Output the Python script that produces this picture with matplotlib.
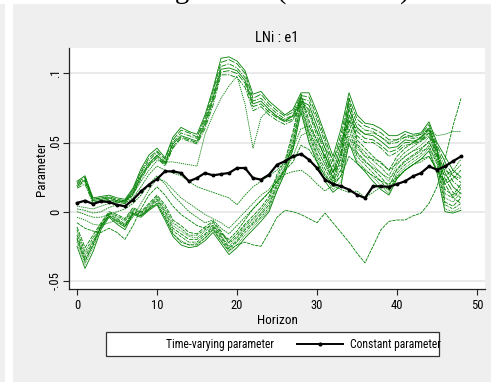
import matplotlib
matplotlib.use("Agg")
import matplotlib.pyplot as plt
from matplotlib import font_manager
from matplotlib.patches import Rectangle

# ---------------- data ----------------
horizon = list(range(49))

constant_param = [
    0.0063, 0.0080, 0.0056, 0.0075, 0.0070, 0.0050, 0.0039, 0.0087, 0.0147, 0.0196,
    0.0237, 0.0292, 0.0292, 0.0280, 0.0220, 0.0244, 0.0280, 0.0263, 0.0272, 0.0280,
    0.0316, 0.0316, 0.0244, 0.0232, 0.0268, 0.0340, 0.0365, 0.0400, 0.0418, 0.0376,
    0.0316, 0.0232, 0.0200, 0.0184, 0.0160, 0.0123, 0.0099, 0.0184, 0.0184, 0.0180,
    0.0200, 0.0220, 0.0256, 0.0280, 0.0328, 0.0304, 0.0328, 0.0365, 0.0400]

tv_u1 = [0.022, 0.026, 0.010, 0.011, 0.012, 0.010, 0.009, 0.017, 0.031, 0.041,
         0.046, 0.039, 0.054, 0.061, 0.058, 0.056, 0.070, 0.089, 0.111, 0.112,
         0.109, 0.102, 0.085, 0.087, 0.080, 0.075, 0.070, 0.074, 0.086, 0.086,
         0.072, 0.056, 0.040, 0.060, 0.086, 0.070, 0.064, 0.063, 0.060, 0.055,
         0.055, 0.058, 0.056, 0.057, 0.065, 0.050, 0.040, 0.030, 0.025]
tv_u2 = [0.021, 0.025, 0.009, 0.010, 0.011, 0.009, 0.008, 0.016, 0.029, 0.039,
         0.044, 0.038, 0.052, 0.059, 0.057, 0.054, 0.068, 0.087, 0.108, 0.110,
         0.107, 0.100, 0.082, 0.085, 0.078, 0.073, 0.069, 0.072, 0.084, 0.083,
         0.069, 0.053, 0.036, 0.056, 0.082, 0.067, 0.062, 0.060, 0.057, 0.052,
         0.052, 0.056, 0.054, 0.056, 0.063, 0.048, 0.036, 0.026, 0.021]
tv_u3 = [0.020, 0.024, 0.009, 0.010, 0.010, 0.008, 0.008, 0.015, 0.028, 0.037,
         0.043, 0.036, 0.050, 0.057, 0.055, 0.053, 0.066, 0.084, 0.105, 0.107,
         0.104, 0.097, 0.080, 0.082, 0.076, 0.071, 0.067, 0.070, 0.082, 0.080,
         0.066, 0.050, 0.032, 0.052, 0.078, 0.064, 0.059, 0.058, 0.054, 0.049,
         0.050, 0.054, 0.053, 0.054, 0.061, 0.046, 0.032, 0.022, 0.017]
tv_u4 = [0.019, 0.023, 0.008, 0.009, 0.010, 0.008, 0.007, 0.014, 0.026, 0.035,
         0.041, 0.035, 0.049, 0.055, 0.053, 0.051, 0.064, 0.082, 0.103, 0.104,
         0.102, 0.095, 0.078, 0.080, 0.074, 0.069, 0.066, 0.069, 0.080, 0.077,
         0.062, 0.046, 0.028, 0.048, 0.074, 0.061, 0.056, 0.055, 0.051, 0.046,
         0.047, 0.052, 0.051, 0.053, 0.059, 0.044, 0.028, 0.018, 0.013]
tv_u5 = [0.018, 0.022, 0.007, 0.008, 0.009, 0.007, 0.007, 0.013, 0.025, 0.034,
         0.040, 0.034, 0.047, 0.054, 0.052, 0.050, 0.062, 0.080, 0.101, 0.102,
         0.100, 0.093, 0.076, 0.078, 0.072, 0.068, 0.065, 0.067, 0.079, 0.074,
         0.058, 0.042, 0.024, 0.044, 0.070, 0.058, 0.053, 0.052, 0.048, 0.043,
         0.045, 0.050, 0.050, 0.052, 0.057, 0.042, 0.024, 0.014, 0.010]
tv_u6 = [0.017, 0.020, 0.006, 0.008, 0.008, 0.007, 0.006, 0.012, 0.024, 0.033,
         0.039, 0.033, 0.046, 0.053, 0.051, 0.049, 0.060, 0.077, 0.099, 0.099,
         0.097, 0.090, 0.073, 0.076, 0.070, 0.066, 0.063, 0.066, 0.078, 0.071,
         0.055, 0.038, 0.020, 0.040, 0.066, 0.055, 0.050, 0.050, 0.046, 0.040,
         0.043, 0.048, 0.049, 0.051, 0.055, 0.040, 0.020, 0.010, 0.006]

tv_l1 = [-0.011, -0.026, -0.017, -0.008, 0.000, -0.002, -0.005, 0.003, 0.000, 0.006,
         0.012, 0.005, -0.006, -0.010, -0.015, -0.016, -0.011, -0.007, -0.014, -0.022,
         -0.016, -0.009, -0.003, 0.003, 0.011, 0.027, 0.037, 0.058, 0.085, 0.066,
         0.051, 0.040, 0.028, 0.042, 0.082, 0.052, 0.046, 0.040, 0.035, 0.030,
         0.040, 0.046, 0.050, 0.054, 0.060, 0.046, 0.016, 0.012, 0.020]
tv_l2 = [-0.013, -0.029, -0.019, -0.009, -0.001, -0.003, -0.006, 0.002, -0.001, 0.005,
         0.011, 0.003, -0.008, -0.012, -0.017, -0.017, -0.013, -0.008, -0.015, -0.023,
         -0.018, -0.010, -0.005, 0.001, 0.009, 0.025, 0.035, 0.055, 0.083, 0.063,
         0.048, 0.037, 0.025, 0.038, 0.076, 0.049, 0.043, 0.037, 0.032, 0.026,
         0.037, 0.043, 0.047, 0.051, 0.057, 0.043, 0.013, 0.010, 0.017]
tv_l3 = [-0.015, -0.031, -0.021, -0.010, -0.001, -0.004, -0.007, 0.001, -0.001, 0.004,
         0.010, 0.001, -0.010, -0.014, -0.018, -0.019, -0.014, -0.010, -0.017, -0.025,
         -0.019, -0.012, -0.006, -0.001, 0.007, 0.022, 0.033, 0.052, 0.080, 0.060,
         0.045, 0.034, 0.022, 0.034, 0.070, 0.046, 0.040, 0.034, 0.028, 0.022,
         0.034, 0.040, 0.044, 0.048, 0.054, 0.040, 0.010, 0.007, 0.014]
tv_l4 = [-0.017, -0.033, -0.022, -0.011, -0.002, -0.005, -0.009, 0.000, -0.002, 0.003,
         0.009, 0.000, -0.012, -0.016, -0.020, -0.020, -0.016, -0.011, -0.018, -0.026,
         -0.021, -0.013, -0.008, -0.002, 0.005, 0.020, 0.032, 0.050, 0.078, 0.057,
         0.042, 0.031, 0.020, 0.030, 0.065, 0.043, 0.037, 0.031, 0.025, 0.018,
         0.031, 0.037, 0.041, 0.045, 0.051, 0.037, 0.007, 0.004, 0.010]
tv_l5 = [-0.019, -0.035, -0.024, -0.011, -0.003, -0.006, -0.010, -0.001, -0.003, 0.002,
         0.008, -0.002, -0.014, -0.018, -0.022, -0.022, -0.017, -0.012, -0.019, -0.027,
         -0.022, -0.015, -0.009, -0.004, 0.003, 0.018, 0.031, 0.048, 0.076, 0.055,
         0.040, 0.028, 0.018, 0.026, 0.060, 0.040, 0.034, 0.028, 0.022, 0.015,
         0.028, 0.034, 0.038, 0.042, 0.048, 0.034, 0.005, 0.002, 0.006]
tv_l6 = [-0.022, -0.038, -0.026, -0.012, -0.003, -0.008, -0.011, -0.001, -0.003, 0.002,
         0.006, -0.004, -0.016, -0.021, -0.024, -0.023, -0.019, -0.013, -0.021, -0.029,
         -0.024, -0.017, -0.011, -0.005, 0.001, 0.016, 0.029, 0.046, 0.074, 0.052,
         0.038, 0.025, 0.016, 0.022, 0.055, 0.037, 0.031, 0.025, 0.019, 0.013,
         0.026, 0.032, 0.036, 0.040, 0.046, 0.030, 0.002, 0.000, 0.003]
tv_l7 = [-0.025, -0.041, -0.029, -0.013, -0.004, -0.009, -0.013, -0.002, -0.004, 0.001,
         0.005, -0.006, -0.018, -0.024, -0.026, -0.025, -0.021, -0.015, -0.023, -0.031,
         -0.026, -0.019, -0.013, -0.007, 0.000, 0.015, 0.028, 0.045, 0.072, 0.050,
         0.036, 0.022, 0.014, 0.019, 0.050, 0.035, 0.029, 0.022, 0.016, 0.012,
         0.024, 0.030, 0.034, 0.038, 0.044, 0.028, 0.000, -0.001, 0.001]

tv_m1 = [0.004, 0.003, 0.002, 0.004, 0.006, 0.007, 0.008, 0.013, 0.022, 0.030,
         0.037, 0.036, 0.036, 0.035, 0.034, 0.033, 0.056, 0.070, 0.082, 0.091,
         0.098, 0.078, 0.046, 0.068, 0.074, 0.069, 0.065, 0.070, 0.082, 0.072,
         0.058, 0.046, 0.038, 0.050, 0.066, 0.060, 0.056, 0.057, 0.054, 0.050,
         0.052, 0.054, 0.055, 0.056, 0.060, 0.055, 0.056, 0.058, 0.058]
tv_m2 = [0.002, 0.001, -0.001, 0.000, 0.003, 0.005, 0.006, 0.010, 0.018, 0.027,
         0.033, 0.030, 0.028, 0.026, 0.022, 0.018, 0.016, 0.014, 0.012, 0.010,
         0.005, 0.012, 0.018, 0.022, 0.026, 0.030, 0.036, 0.046, 0.060, 0.062,
         0.052, 0.040, 0.030, 0.034, 0.052, 0.048, 0.040, 0.038, 0.036, 0.030,
         0.035, 0.040, 0.044, 0.046, 0.050, 0.040, 0.030, 0.026, 0.024]
tv_m3 = [-0.004, -0.006, -0.009, -0.010, -0.008, -0.006, -0.010, -0.004, 0.006, 0.016,
         0.024, 0.022, 0.016, 0.010, 0.006, 0.002, -0.002, -0.005, -0.008, -0.012,
         -0.006, 0.000, 0.006, 0.012, 0.016, 0.024, 0.030, 0.040, 0.055, 0.058,
         0.046, 0.034, 0.024, 0.030, 0.048, 0.042, 0.036, 0.032, 0.028, 0.024,
         0.030, 0.036, 0.040, 0.044, 0.046, 0.036, 0.026, 0.030, 0.038]
tv_m4 = [-0.008, -0.012, -0.014, -0.015, -0.012, -0.015, -0.020, -0.010, 0.002, 0.012,
         0.018, 0.012, 0.004, -0.002, -0.006, -0.010, -0.012, -0.010, -0.016, -0.020,
         -0.014, -0.006, 0.002, 0.008, 0.014, 0.022, 0.030, 0.036, 0.048, 0.045,
         0.036, 0.026, 0.020, 0.026, 0.040, 0.035, 0.030, 0.026, 0.022, 0.020,
         0.025, 0.030, 0.034, 0.038, 0.040, 0.030, 0.020, 0.024, 0.030]
tv_b = [-0.020, -0.036, -0.024, -0.010, -0.003, -0.007, -0.011, -0.001, -0.003, 0.002,
        0.006, -0.004, -0.016, -0.022, -0.024, -0.024, -0.019, -0.013, -0.021, -0.028,
        -0.024, -0.022, -0.024, -0.025, -0.015, -0.004, 0.001, 0.000, -0.002, -0.005,
        -0.008, -0.001, -0.008, -0.015, -0.022, -0.030, -0.037, -0.025, -0.013, -0.007,
        -0.006, -0.006, -0.003, -0.001, 0.006, 0.018, 0.038, 0.062, 0.082]
tv_d = [0.000, -0.002, -0.004, -0.004, -0.002, 0.000, 0.002, 0.006, 0.012, 0.020,
        0.026, 0.020, 0.012, 0.006, 0.000, -0.004, -0.008, -0.006, -0.012, -0.016,
        -0.010, -0.004, 0.002, 0.008, 0.014, 0.022, 0.027, 0.029, 0.030, 0.026,
        0.020, 0.015, 0.019, 0.016, 0.014, 0.015, 0.010, 0.014, 0.018, 0.016,
        0.024, 0.030, 0.034, 0.036, 0.040, 0.030, 0.022, 0.028, 0.034]

tv_series = [tv_u1, tv_l1, tv_m1, tv_u2, tv_l2, tv_m2, tv_u3, tv_l3, tv_b,
             tv_u4, tv_l4, tv_m3, tv_u5, tv_l5, tv_d, tv_u6, tv_l6, tv_m4, tv_l7]

x_ticks = [0, 10, 20, 30, 40, 50]
y_ticks = [-0.05, 0.0, 0.05, 0.1]
y_tick_labels = ["-.05", "0", ".05", ".1"]
title_text = "LNi : e1"
x_label = "Horizon"
y_label = "Parameter"
legend_labels = ["Time-varying parameter", "Constant parameter"]
page_caption = "Figure 4.1 (continued)"

# ---------------- fonts ----------------
available = {f.name for f in font_manager.fontManager.ttflist}
narrow = "DejaVu Sans"
for cand in ["Liberation Sans Narrow", "DejaVu Sans Condensed", "Roboto Condensed", "Liberation Sans"]:
    if cand in available:
        narrow = cand
        break
plt.rcParams["font.family"] = [narrow, "DejaVu Sans"]

W, H = 491, 382
fig = plt.figure(figsize=(W / 100, H / 100), dpi=100)
fig.patch.set_facecolor("#efefef")

# background / overlay axes in pixel coordinates (y grows downwards)
bg = fig.add_axes([0, 0, 1, 1], zorder=0)
bg.set_xlim(0, W)
bg.set_ylim(H, 0)
bg.axis("off")
bg.add_patch(Rectangle((0, 0), W, 4, facecolor="white", edgecolor="none"))
bg.add_patch(Rectangle((5, 0), 8, H, facecolor="white", edgecolor="none"))

# cut-off page caption above the chart: only its descenders reach into the picture
bg.text(151, 4.2, page_caption, fontsize=20.8, family="Liberation Serif",
        ha="left", va="bottom", clip_on=False)

# legend box
bg.add_patch(Rectangle((106, 332), 333, 24, facecolor="white", edgecolor="#333333", lw=0.9))
bg.text(166, 344.5, legend_labels[0], fontsize=8.4, ha="left", va="center")
bg.plot([297, 343], [344, 344], color="black", lw=1.4)
bg.plot([320], [344], marker="o", color="black", markersize=2)
bg.text(350, 344.5, legend_labels[1], fontsize=8.4, ha="left", va="center")

# main axes
ax = fig.add_axes([69 / W, 1 - 289 / H, (485 - 69) / W, (289 - 48) / H], zorder=1)
ax.set_facecolor("white")
ax.set_xlim(-1, 51)
ax.set_ylim(-0.0559, 0.1184)

for s in ["top", "right"]:
    ax.spines[s].set_visible(False)
for s in ["left", "bottom"]:
    ax.spines[s].set_color("#222222")
    ax.spines[s].set_linewidth(0.9)

ax.set_yticks(y_ticks)
ax.set_yticklabels(y_tick_labels, rotation=90, va="center")
ax.set_xticks(x_ticks)
ax.tick_params(axis="both", direction="out", length=4, width=0.8, color="#222222",
               labelsize=9)
ax.tick_params(axis="y", pad=1)
ax.tick_params(axis="x", pad=3)
ax.grid(axis="y", color="#e6e6e6", lw=1.2)
ax.set_axisbelow(True)

styles = ["-", (0, (5, 1.5)), (0, (1.5, 1)), (0, (8, 2)), (0, (3, 1, 1, 1)),
          (0, (2, 1)), (0, (6, 1.5, 1.5, 1.5)), (0, (1, 1)), (0, (4, 1))]
for i, s in enumerate(tv_series):
    ax.plot(horizon, s, color="#008000", lw=0.6, ls=styles[i % len(styles)], zorder=2)

ax.plot(horizon, constant_param, color="black", lw=1.6, marker="o", markersize=1.8, zorder=3)

ax.set_title(title_text, fontsize=10.5, pad=4)
ax.set_xlabel(x_label, fontsize=9.5, labelpad=2)
ax.set_ylabel(y_label, fontsize=9.5, labelpad=1)

fig.savefig("out.png", dpi=100, facecolor=fig.get_facecolor())
